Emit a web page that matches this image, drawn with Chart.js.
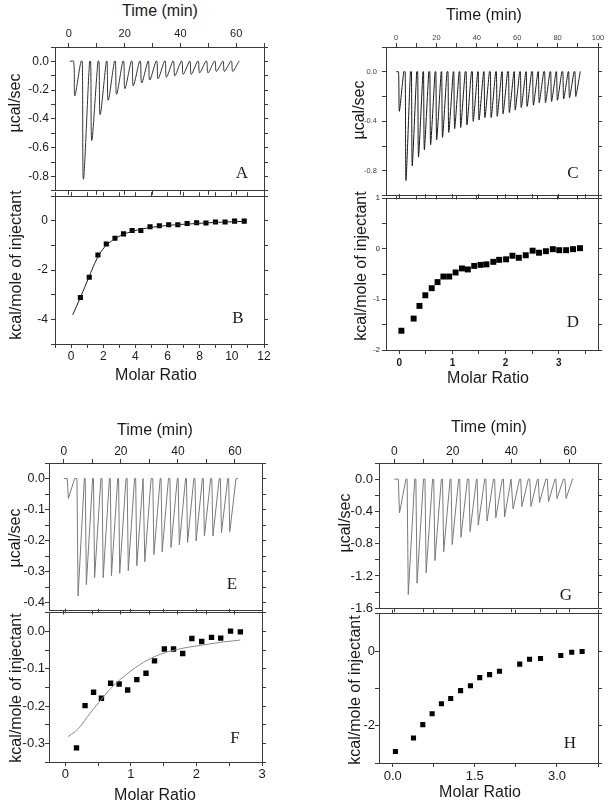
<!DOCTYPE html>
<html>
<head>
<meta charset="utf-8">
<script src="https://cdn.jsdelivr.net/npm/chart.js@4.4.0/dist/chart.umd.min.js"></script>
<style>
  body { margin: 0; background: #fff; }
  #fig { position: relative; width: 608px; height: 805px; overflow: hidden; background: #fff;
         font-family: "Liberation Sans", Arial, sans-serif; color: #1a1a1a; }
  #fig canvas { position: absolute; }
  .lbl { position: absolute; white-space: nowrap; font-size: 16px; line-height: 1;
         transform: translate(-50%, -50%); }
  .lbl.rot { transform: translate(-50%, -50%) rotate(-90deg); }
  .lbl.tag { font-family: "Liberation Serif", "Times New Roman", serif; font-size: 17px; }
</style>
</head>
<body>
<div id="fig"></div>
<script>
// ---- A / B : raw heats and integrated isotherm ----
const timeA = [1.7, 4.8, 7.8, 10.8, 13.7, 16.7, 19.7, 22.7, 25.7, 28.6, 31.6, 34.6, 37.6, 40.6, 43.5, 46.5, 49.5, 52.5, 55.4, 58.4];
const peakA = [-0.24, -0.82, -0.55, -0.37, -0.27, -0.23, -0.19, -0.17, -0.15, -0.13, -0.12, -0.11, -0.10, -0.09, -0.09, -0.08, -0.08, -0.07, -0.07, -0.07];
const spanA = [0.3, 61.2];
const ratioB = [0.58, 1.13, 1.67, 2.19, 2.73, 3.26, 3.80, 4.34, 4.91, 5.49, 6.07, 6.64, 7.22, 7.81, 8.39, 8.98, 9.58, 10.17, 10.77];
const heatB = [-3.11, -2.29, -1.39, -0.94, -0.71, -0.53, -0.39, -0.39, -0.24, -0.20, -0.16, -0.16, -0.11, -0.08, -0.09, -0.05, -0.05, -0.01, -0.01];
const fitRatioB = [0.1, 0.6, 1.1, 1.6, 2.1, 2.6, 3.2, 3.8, 4.5, 5.5, 6.5, 7.5, 8.5, 9.5, 10.8];
const fitHeatB = [-3.82, -3.08, -2.30, -1.55, -1.05, -0.78, -0.56, -0.43, -0.32, -0.22, -0.16, -0.12, -0.08, -0.05, -0.02];

// ---- C / D ----
const timeC = [1.2, 4.5, 7.6, 10.7, 13.6, 16.7, 19.7, 22.6, 25.7, 28.6, 31.6, 34.7, 37.8, 40.7, 43.6, 46.7, 49.7, 52.6, 55.7, 58.6, 61.6, 64.5, 67.6, 70.5, 73.6, 76.6, 79.5, 82.6, 85.5, 88.6];
const peakC = [-0.32, -0.88, -0.76, -0.69, -0.63, -0.59, -0.55, -0.53, -0.49, -0.46, -0.45, -0.43, -0.40, -0.39, -0.37, -0.37, -0.36, -0.34, -0.33, -0.31, -0.29, -0.28, -0.27, -0.25, -0.25, -0.24, -0.23, -0.22, -0.21, -0.20];
const spanC = [0, 91.5];
const ratioD = [0.04, 0.27, 0.38, 0.49, 0.61, 0.72, 0.83, 0.94, 1.06, 1.18, 1.29, 1.41, 1.53, 1.64, 1.77, 1.88, 2.01, 2.13, 2.25, 2.38, 2.51, 2.63, 2.76, 2.89, 3.01, 3.14, 3.27, 3.40];
const heatD = [-1.62, -1.38, -1.13, -0.92, -0.78, -0.66, -0.55, -0.55, -0.47, -0.39, -0.41, -0.34, -0.32, -0.31, -0.26, -0.22, -0.21, -0.14, -0.18, -0.13, -0.04, -0.08, -0.05, -0.01, -0.03, -0.03, -0.01, 0.01];

// ---- E / F ----
const timeE = [1.2, 4.6, 7.5, 10.4, 13.4, 16.3, 19.2, 22.2, 25.2, 28.0, 31.2, 34.1, 37.2, 40.1, 43.0, 46.0, 48.9, 51.9, 54.9, 57.8];
const peakE = [-0.064, -0.378, -0.342, -0.319, -0.319, -0.313, -0.305, -0.297, -0.281, -0.268, -0.245, -0.236, -0.222, -0.214, -0.206, -0.201, -0.185, -0.185, -0.174, -0.171];
const spanE = [0, 61];
const ratioF = [0.17, 0.30, 0.43, 0.55, 0.69, 0.82, 0.95, 1.09, 1.23, 1.36, 1.51, 1.65, 1.79, 1.93, 2.08, 2.23, 2.37, 2.52, 2.67];
const heatF = [-0.312, -0.199, -0.163, -0.179, -0.139, -0.141, -0.157, -0.129, -0.112, -0.079, -0.047, -0.047, -0.059, -0.019, -0.027, -0.016, -0.018, 0.001, -0.001];
const fitRatioF = [0.04, 0.19, 0.37, 0.53, 0.73, 0.94, 1.19, 1.45, 1.76, 2.07, 2.37, 2.67];
const fitHeatF = [-0.282, -0.262, -0.221, -0.186, -0.146, -0.114, -0.083, -0.061, -0.046, -0.037, -0.029, -0.023];

// ---- G / H ----
const timeG = [1.4, 4.4, 7.4, 10.5, 13.5, 16.5, 19.4, 22.4, 25.5, 28.3, 31.3, 34.3, 37.3, 40.2, 43.2, 46.3, 49.2, 52.3, 55.2, 58.3];
const peakG = [-0.42, -1.43, -1.29, -1.16, -1.01, -0.90, -0.81, -0.72, -0.65, -0.57, -0.52, -0.48, -0.47, -0.37, -0.34, -0.34, -0.29, -0.28, -0.24, -0.24];
const spanG = [0, 61.2];
const ratioH = [0.05, 0.38, 0.55, 0.72, 0.89, 1.06, 1.24, 1.42, 1.59, 1.77, 1.95, 2.32, 2.50, 2.70, 3.07, 3.27, 3.46];
const heatH = [-2.69, -2.33, -1.97, -1.68, -1.41, -1.27, -1.06, -0.93, -0.71, -0.63, -0.54, -0.35, -0.22, -0.20, -0.12, -0.03, -0.01];

const frame = '#3a3a3a';
const fig = document.getElementById('fig');

// label only the ticks that fall on a multiple of `step`
function every(step, dec) {
  return v => {
    const k = Math.round(v / step);
    if (Math.abs(v - k * step) > step * 1e-3) return '';
    const x = k * step;
    return (Math.abs(x) < 1e-9 ? 0 : x).toFixed(dec);
  };
}

// injection spikes: drop from baseline to the peak, return to baseline
function trace(span, times, peaks) {
  const pts = [{x: span[0], y: 0}];
  times.forEach((t, i) => {
    pts.push({x: t, y: 0}, {x: t + 0.4, y: peaks[i]}, {x: t + 2.6, y: 0});
  });
  pts.push({x: span[1], y: 0});
  return pts;
}

function xy(xs, ys) {
  return xs.map((x, i) => ({x: x, y: ys[i]}));
}

function panel(c) {
  const [cx, cy, cw, ch] = c.box;
  const [pl, pt, pr, pb] = c.plot;
  const cv = document.createElement('canvas');
  cv.width = cw;
  cv.height = ch;
  Object.assign(cv.style, {left: cx + 'px', top: cy + 'px', width: cw + 'px', height: ch + 'px'});
  fig.appendChild(cv);
  const size = {xt: pt - cy, xb: cy + ch - pb, yl: pl - cx, yr: cx + cw - pr};
  const axis = (id, pos, lim, step, labels, font, pad) => ({
    type: 'linear',
    position: pos,
    min: lim[0],
    max: lim[1],
    ticks: {
      display: !!labels,
      stepSize: step,
      includeBounds: false,
      autoSkip: false,
      maxRotation: 0,
      callback: labels || (() => ''),
      font: font,
      color: c.tickColor || '#1a1a1a',
      padding: pad
    },
    grid: {drawOnChartArea: false, tickLength: 4, color: frame, lineWidth: 1},
    border: {display: true, color: frame, width: 1},
    afterFit: s => {
      if (s.isHorizontal()) s.height = size[id];
      else s.width = size[id];
    }
  });
  const onTop = c.xOn === 'top';
  new Chart(cv, {
    type: 'scatter',
    data: {
      datasets: c.datasets.map(d => Object.assign({xAxisID: onTop ? 'xt' : 'xb', yAxisID: 'yl'}, d))
    },
    options: {
      responsive: false,
      animation: false,
      devicePixelRatio: 1,
      layout: {padding: 0, autoPadding: false},
      plugins: {legend: {display: false}, tooltip: {enabled: false}},
      scales: {
        xt: axis('xt', 'top', c.xLim, c.xStep, onTop ? c.xLab : null, c.xFont, c.xPad),
        xb: axis('xb', 'bottom', c.xLim, c.xStep, onTop ? null : c.xLab, c.xFont, c.xPad),
        yl: axis('yl', 'left', c.yLim, c.yStep, c.yLab, c.yFont, c.yPad),
        yr: axis('yr', 'right', c.yLim, c.yStep, null, c.yFont, 0)
      }
    }
  });
}

function spikes(data, color, tension) {
  return {data: data, showLine: true, borderColor: color, borderWidth: 1, pointRadius: 0, tension: tension || 0};
}
function squares(data, r) {
  return {data: data, showLine: false, pointStyle: 'rect', pointRadius: r,
          backgroundColor: '#000', borderColor: '#000', borderWidth: 0};
}
function fitLine(data, color) {
  return {data: data, showLine: true, borderColor: color, borderWidth: 1, pointRadius: 0,
          cubicInterpolationMode: 'monotone'};
}

const f = (size, weight) => ({family: '"Liberation Sans", Arial, sans-serif', size: size, weight: weight || 'normal'});

// A
panel({box: [0, 20, 300, 180], plot: [55, 47, 264, 193], xOn: 'top',
  xLim: [-5, 70], xStep: 10, xLab: every(20, 0), xFont: f(11), xPad: 2,
  yLim: [-0.9, 0.1], yStep: 0.1, yLab: every(0.2, 1), yFont: f(12), yPad: 2,
  datasets: [spikes(trace(spanA, timeA, peakA), '#333', 0.3)]});
// B
panel({box: [0, 186, 300, 190], plot: [55, 193, 264, 344], xOn: 'bottom',
  xLim: [-1, 12], xStep: 1, xLab: every(2, 0), xFont: f(12), xPad: 1,
  yLim: [-5, 1], yStep: 1, yLab: every(2, 0), yFont: f(12), yPad: 3,
  datasets: [fitLine(xy(fitRatioB, fitHeatB), '#222'), squares(xy(ratioB, heatB), 3.6)]});
// C
panel({box: [300, 20, 308, 185], plot: [386, 47, 598, 198], xOn: 'top', tickColor: '#444',
  xLim: [-5, 100], xStep: 10, xLab: every(20, 0), xFont: f(7.5), xPad: 1,
  yLim: [-1.0, 0.2], yStep: 0.2, yLab: every(0.4, 1), yFont: f(7.5), yPad: 5,
  datasets: [spikes(trace(spanC, timeC, peakC), '#1a1a1a', 0.2)]});
// D
panel({box: [300, 191, 308, 190], plot: [386, 198, 598, 350], xOn: 'bottom',
  xLim: [-0.25, 3.74], xStep: 0.5, xLab: every(1, 0), xFont: f(10, 'bold'), xPad: 3,
  yLim: [-2, 1], yStep: 0.5, yLab: every(1, 0), yFont: f(7.5), yPad: 2,
  datasets: [squares(xy(ratioD, heatD), 4.2)]});
// E
panel({box: [0, 430, 300, 188], plot: [49, 463, 262, 612], xOn: 'top',
  xLim: [-5.2, 69.5], xStep: 10, xLab: every(20, 0), xFont: f(12), xPad: 0,
  yLim: [-0.425, 0.05], yStep: 0.05, yLab: every(0.1, 1), yFont: f(12.5), yPad: 0,
  datasets: [spikes(trace(spanE, timeE, peakE), '#7a7a7a')]});
// F
panel({box: [0, 605, 300, 185], plot: [49, 612, 262, 762], xOn: 'bottom',
  xLim: [-0.25, 3], xStep: 0.5, xLab: every(1, 0), xFont: f(13), xPad: 1,
  yLim: [-0.35, 0.05], yStep: 0.05, yLab: every(0.1, 1), yFont: f(13), yPad: 0,
  datasets: [fitLine(xy(fitRatioF, fitHeatF), '#8a8a8a'), squares(xy(ratioF, heatF), 3.8)]});
// G
panel({box: [300, 430, 308, 188], plot: [379, 463, 598, 613], xOn: 'top',
  xLim: [-5.2, 69.6], xStep: 10, xLab: every(20, 0), xFont: f(12), xPad: 0,
  yLim: [-1.6, 0.2], yStep: 0.2, yLab: every(0.4, 1), yFont: f(13), yPad: 2,
  datasets: [spikes(trace(spanG, timeG, peakG), '#7a7a7a')]});
// H
panel({box: [300, 606, 308, 185], plot: [379, 613, 598, 763], xOn: 'bottom',
  xLim: [-0.25, 3.75], xStep: 0.75, xLab: every(1.5, 1), xFont: f(13), xPad: 2,
  yLim: [-3, 1], yStep: 1, yLab: every(2, 0), yFont: f(13), yPad: 0,
  datasets: [squares(xy(ratioH, heatH), 3.6)]});

// axis titles and panel letters
const texts = [
  ['Time (min)', 160, 11, ''], ['µcal/sec', 15, 103, 'rot'],
  ['kcal/mole of injectant', 16, 265, 'rot'], ['Molar Ratio', 156, 375, ''],
  ['Time (min)', 484, 15, ''], ['µcal/sec', 359, 110, 'rot'],
  ['kcal/mole of injectant', 361, 266, 'rot'], ['Molar Ratio', 488, 378, ''],
  ['Time (min)', 155, 430, ''], ['µcal/sec', 15, 538, 'rot'],
  ['kcal/mole of injectant', 16, 688, 'rot'], ['Molar Ratio', 155, 795, ''],
  ['Time (min)', 489, 427, ''], ['µcal/sec', 345, 523, 'rot'],
  ['kcal/mole of injectant', 355, 690, 'rot'], ['Molar Ratio', 480, 792, ''],
  ['A', 242, 172, 'tag'], ['B', 238, 317, 'tag'], ['C', 573, 172, 'tag'], ['D', 573, 321, 'tag'],
  ['E', 232, 583, 'tag'], ['F', 235, 737, 'tag'], ['G', 566, 594, 'tag'], ['H', 570, 742, 'tag']
];
texts.forEach(([t, x, y, cls]) => {
  const d = document.createElement('div');
  d.className = 'lbl ' + cls;
  d.textContent = t;
  d.style.left = x + 'px';
  d.style.top = y + 'px';
  fig.appendChild(d);
});
</script>
</body>
</html>
